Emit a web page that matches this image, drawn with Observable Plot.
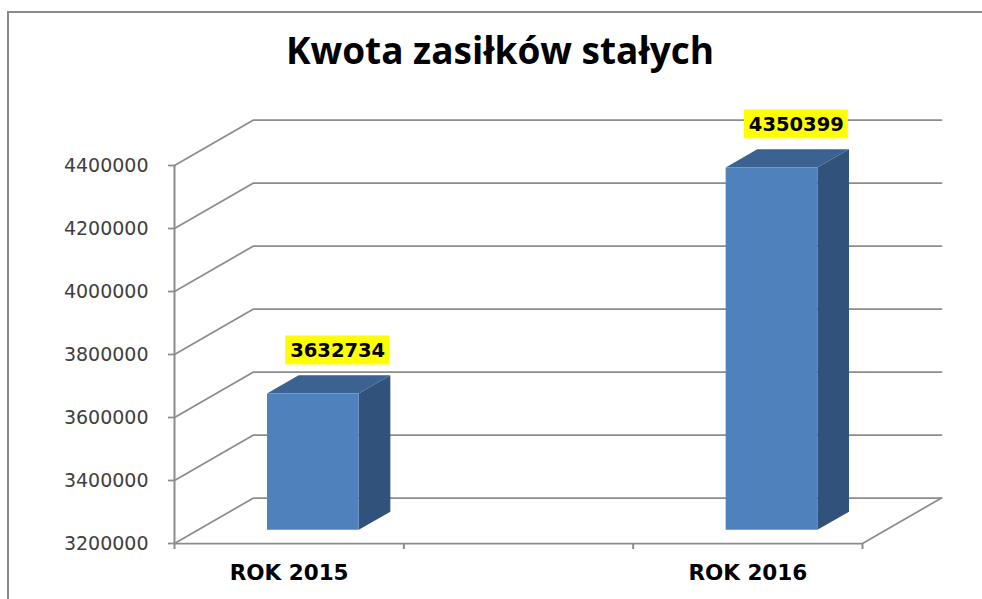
<!DOCTYPE html>
<html>
<head>
<meta charset="utf-8">
<script src="https://cdn.jsdelivr.net/npm/d3@7"></script>
<script src="https://cdn.jsdelivr.net/npm/@observablehq/plot@0.6"></script>
<style>
  html, body { margin: 0; padding: 0; background: #fff; overflow: hidden; }
  #wrap { position: relative; width: 982px; height: 599px; overflow: hidden; }
  #frame { position: absolute; left: 7px; top: 11px; width: 2000px; height: 2000px;
           border-left: 2px solid #8a8a8a; border-top: 2px solid #8a8a8a; }
  #title { position: absolute; left: 0; top: 32px; width: 1000px; text-align: center;
           font-family: "Open Sans", sans-serif; font-weight: 700; font-size: 37px;
           line-height: 36px; color: #000; white-space: nowrap; }
  #chart { position: absolute; left: 0; top: 0; }
</style>
</head>
<body>
<div id="wrap">
  <div id="frame"></div>
  <div id="chart"></div>
  <div id="title"></div>
</div>
<script>
// ---- data ----
const categories = ["ROK 2015", "", "ROK 2016"];
const values = [3632734, null, 4350399];
const yTicks = [3200000, 3400000, 3600000, 3800000, 4000000, 4200000, 4400000];
const chartTitle = "Kwota zasiłków stałych";

// ---- layout / style ----
const W = 982, H = 599;
const M = {left: 174, right: 120, top: 165, bottom: 56};
const yDomain = [yTicks[0], yTicks[yTicks.length - 1]];
const xDomain = [0, categories.length];
const kx = (W - M.left - M.right) / (xDomain[1] - xDomain[0]); // px per x unit
const ky = (H - M.top - M.bottom) / (yDomain[1] - yDomain[0]); // px per y unit
const DEPTH = [79, 45.5]; // px offset of the back wall
const y0 = yDomain[0];
// project a 3D point (x data, y data, depth 0..1) into 2D data space
const P = (x, y, z, key) => ({x: x + z * DEPTH[0] / kx, y: y + z * DEPTH[1] / ky, key});

// gridlines: left wall diagonal + back wall horizontal
const grid = [];
yTicks.forEach(t => {
  grid.push(P(0, t, 0, t), P(0, t, 1, t), P(xDomain[1], t, 1, t));
});
// floor front edge + right diagonal
const floorPts = [P(0, y0, 0, "f"), P(xDomain[1], y0, 0, "f"), P(xDomain[1], y0, 1, "f")];
// front vertical axis
const axisLine = [P(0, yDomain[0], 0, "a"), P(0, yDomain[1], 0, "a")];

// bars (3D boxes)
const BW = 0.2, Z0 = 0.3, Z1 = 0.7;
const frontFaces = [], sideFaces = [], topFaces = [], labels = [];
values.forEach((v, i) => {
  if (v == null) return;
  const c = i + 0.5, a = c - BW, b = c + BW;
  frontFaces.push(P(a, y0, Z0, i), P(b, y0, Z0, i), P(b, v, Z0, i), P(a, v, Z0, i));
  sideFaces.push(P(b, y0, Z0, i), P(b, y0, Z1, i), P(b, v, Z1, i), P(b, v, Z0, i));
  topFaces.push(P(a, v, Z0, i), P(b, v, Z0, i), P(b, v, Z1, i), P(a, v, Z1, i));
  const p = P(c, v, 0.5, i);
  labels.push({x: p.x + 9 / kx, y: p.y + 34 / ky, text: String(v)});
});

const gray = "#8c8c8c";
const chart = Plot.plot({
  width: W, height: H,
  marginLeft: M.left, marginRight: M.right, marginTop: M.top, marginBottom: M.bottom,
  x: {domain: xDomain, axis: null},
  y: {domain: yDomain, axis: null},
  style: {background: "transparent", overflow: "visible"},
  marks: [
    Plot.line(grid, {x: "x", y: "y", z: "key", stroke: gray, strokeWidth: 1.75}),
    Plot.line(floorPts, {x: "x", y: "y", z: "key", stroke: gray, strokeWidth: 1.75}),
    Plot.line(axisLine, {x: "x", y: "y", z: "key", stroke: gray, strokeWidth: 2}),
    // y ticks
    Plot.ruleY(yTicks, {y: d => d, x1: -6 / kx, x2: 0, stroke: gray, strokeWidth: 1.75}),
    // x ticks (category boundaries)
    Plot.ruleX(d3.range(categories.length + 1), {x: d => d, y1: y0, y2: y0 - 6 / ky, stroke: gray, strokeWidth: 2}),
    // y tick labels
    Plot.text(yTicks, {x: 0, y: d => d, text: d => String(d), dx: -26, textAnchor: "end",
      fontFamily: "DejaVu Sans", fontSize: 19, fill: "#404040"}),
    // category labels
    Plot.text(categories, {x: (d, i) => i + 0.5, y: y0, text: d => d, dy: 30,
      fontFamily: "DejaVu Sans", fontWeight: "bold", fontSize: 21.5, fill: "#000"}),
    // bars
    Plot.line(sideFaces, {x: "x", y: "y", z: "key", fill: "#30527b", stroke: "none"}),
    Plot.line(topFaces, {x: "x", y: "y", z: "key", fill: "#3b6291", stroke: "none"}),
    Plot.line(frontFaces, {x: "x", y: "y", z: "key", fill: "#4f81bd", stroke: "none"}),
    // value labels with yellow boxes
    Plot.rect(labels, {x1: d => d.x - 52 / kx, x2: d => d.x + 52 / kx,
      y1: d => d.y - 14.5 / ky, y2: d => d.y + 14.5 / ky, fill: "#ffff00"}),
    Plot.text(labels, {x: "x", y: "y", text: "text", fontFamily: "DejaVu Sans",
      fontWeight: "bold", fontSize: 19.5, fill: "#000"})
  ]
});
document.getElementById("chart").appendChild(chart);
document.getElementById("title").textContent = chartTitle;
</script>
</body>
</html>
